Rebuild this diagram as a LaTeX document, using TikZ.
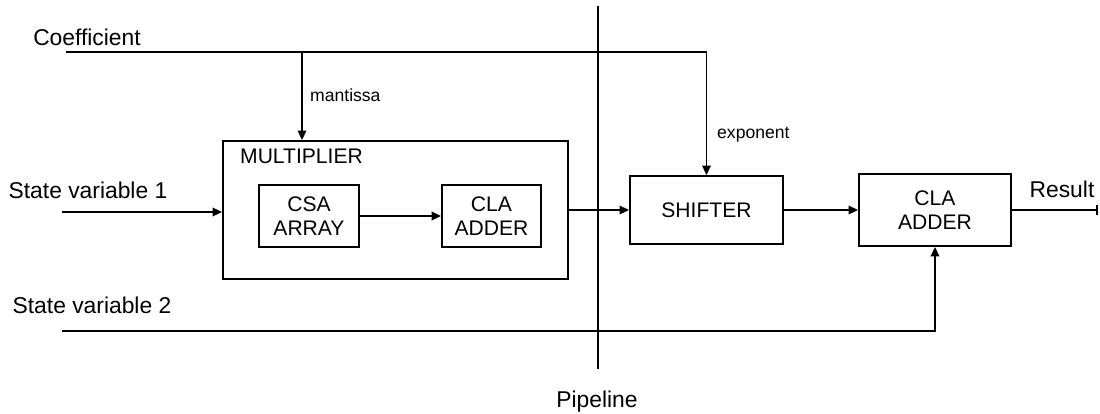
\documentclass[tikz,border=0pt]{standalone}
\usepackage{fontspec}
\setmainfont{Liberation Sans}
\usetikzlibrary{arrows.meta}
\begin{document}
\begin{tikzpicture}[x=0.02cm, y=-0.02cm,
  unitbox/.style={draw, line width=1.1pt, align=center, inner sep=0pt,
    font=\fontsize{12}{13.5}\selectfont},
  sigline/.style={line width=1.1pt},
  sigarrow/.style={sigline, -{Triangle[length=1.9mm, width=1.7mm]}},
  siglabel/.style={font=\fontsize{13}{15}\selectfont},
  taplabel/.style={anchor=west, font=\fontsize{10}{12}\selectfont}
]
\useasboundingbox (0,0) rectangle (1100,413);
\node[unitbox, minimum width=6.9cm, minimum height=2.76cm] (mult) at (395.5,210) {};
\node[anchor=west, font=\fontsize{12}{13.5}\selectfont] (mult-label) at (234,156) {MULTIPLIER};
\node[unitbox, minimum width=2cm, minimum height=1.24cm] (csa) at (309,216) {CSA\\ARRAY};
\node[unitbox, minimum width=1.98cm, minimum height=1.24cm] (cla-mult) at (491.5,216) {CLA\\ADDER};
\node[unitbox, minimum width=3.06cm, minimum height=1.36cm] (shifter) at (706.5,210) {SHIFTER};
\node[unitbox, minimum width=3.04cm, minimum height=1.44cm] (adder) at (935,210) {CLA\\ADDER};
\node[siglabel] (coef-label) at (87,37) {Coefficient};
\node[siglabel] (sv1-label) at (88,190) {State variable 1};
\node[siglabel] (sv2-label) at (92,305) {State variable 2};
\node[siglabel] (result-label) at (1062,189) {Result};
\node[siglabel] (pipe-label) at (597,402) {Pipeline};
\node[taplabel] (mant-label) at (304,95) {mantissa};
\node[taplabel] (exp-label) at (711,135) {exponent};
\coordinate (coef-in) at (66,52);
\coordinate (mant-tap) at (302,52);
\coordinate (sv1-in) at (62,212);
\coordinate (sv2-in) at (62,331);
\coordinate (result-out) at (1098,210);
\coordinate (pipe-top) at (598,6);
\coordinate (pipe-bot) at (598,369);
\draw[sigline] (pipe-top) -- (pipe-bot);
\draw[sigarrow] (coef-in) -| (shifter.north);
\draw[sigarrow] (mant-tap) -- (mant-tap |- mult.north);
\draw[sigarrow] (sv1-in) -- (sv1-in -| mult.west);
\draw[sigarrow] (sv2-in) -| (adder.south);
\foreach \a/\b in {csa/cla-mult,mult/shifter,shifter/adder}
  \draw[sigarrow] (\a.east) -- (\b.west);
\draw[sigline, -{Bar[width=2mm]}] (adder.east) -- (result-out);
\end{tikzpicture}
\end{document}
